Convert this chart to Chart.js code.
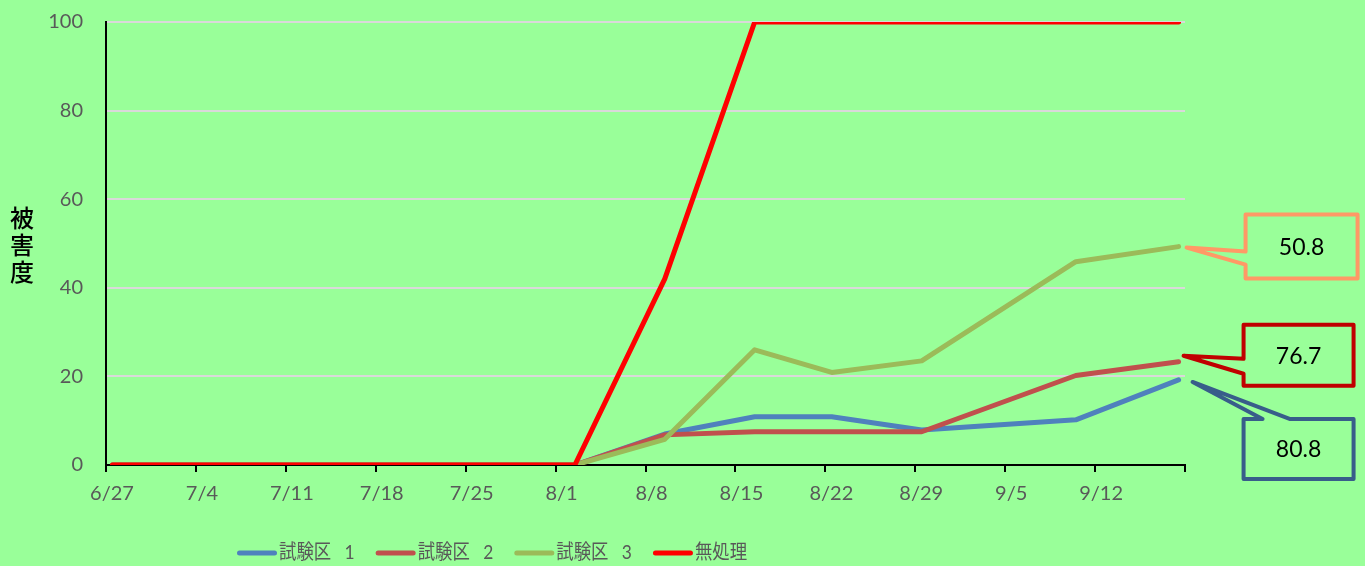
<!DOCTYPE html>
<html>
<head>
<meta charset="utf-8">
<script src="https://cdn.jsdelivr.net/npm/chart.js@4.4.1/dist/chart.umd.min.js"></script>
<style>
  html, body { margin: 0; padding: 0; background: #99ff99; }
  #wrap { width: 1365px; height: 566px; }
</style>
</head>
<body>
<div id="wrap"><canvas id="c" width="1365" height="566"></canvas></div>
<script>
// Survey dates and damage index (被害度) per plot
const dates     = ['6/27', '8/2', '8/9', '8/16', '8/22', '8/29', '9/10', '9/18'];
const plot1     = [0, 0, 7.0, 10.9, 10.9, 7.9, 10.2, 19.2];
const plot2     = [0, 0, 6.8, 7.5, 7.5, 7.5, 20.2, 23.3];
const plot3     = [0, 0, 5.8, 26.0, 20.9, 23.5, 45.9, 49.3];
const untreated = [0, 0, 42.0, 100, 100, 100, 100, 100];

const seriesNames = ['試験区   1', '試験区   2', '試験区   3', '無処理'];

// Weekly axis ticks (last tick closes the axis without a label)
const tickDates  = ['6/27', '7/4', '7/11', '7/18', '7/25', '8/1', '8/8', '8/15', '8/22', '8/29', '9/5', '9/12', '9/19'];
const tickLabels = ['6/27', '7/4', '7/11', '7/18', '7/25', '8/1', '8/8', '8/15', '8/22', '8/29', '9/5', '9/12', ''];

// Control value shown next to the final point of each treated plot
const calloutTexts = ['80.8', '76.7', '50.8'];

const yTitle = ['被', '害', '度'];

const COLORS = ['#4f81bd', '#c0504d', '#9bbb59', '#ff0000'];
const GREY_TEXT = '#595959';
const LATIN = 'Lato, "Noto Sans CJK JP", sans-serif';
const CJK = '"Noto Sans CJK JP", sans-serif';

function dayIndex(md) {
  const [m, d] = md.split('/').map(Number);
  return (Date.UTC(2000, m - 1, d) - Date.UTC(2000, 5, 27)) / 86400000;
}

function series(values) {
  return dates.map((d, i) => ({ x: dayIndex(d), y: values[i] }));
}

const allSeries = [plot1, plot2, plot3, untreated];
const drawOrder = [4, 3, 2, 1];

const datasets = allSeries.map((vals, i) => ({
  label: seriesNames[i],
  data: series(vals),
  borderColor: COLORS[i],
  backgroundColor: COLORS[i],
  borderWidth: 5,
  borderCapStyle: 'round',
  borderJoinStyle: 'round',
  pointRadius: 0,
  pointHoverRadius: 0,
  tension: 0,
  order: drawOrder[i]
}));

// Callout outlines, offsets in pixels from the final point of each series
const calloutStyles = [
  { color: '#385d8a', box: [65, 39, 175, 99], wedge: 'top', tip: [14, 2], base: [84, 111] },
  { color: '#c00000', box: [65, -37, 175, 24], wedge: 'left', tip: [5, -6], base: [-3, 12] },
  { color: '#ff9966', box: [67, -32, 179, 32], wedge: 'left', tip: [8, 1], base: [5, 18] }
];

const calloutPlugin = {
  id: 'callouts',
  afterDatasetsDraw(chart) {
    const ctx = chart.ctx;
    ctx.save();
    calloutStyles.forEach((st, i) => {
      const meta = chart.getDatasetMeta(i);
      const pt = meta.data[meta.data.length - 1];
      const px = pt.x, py = pt.y;
      const L = px + st.box[0], T = py + st.box[1], R = px + st.box[2], B = py + st.box[3];
      const tx = px + st.tip[0], ty = py + st.tip[1];
      ctx.beginPath();
      if (st.wedge === 'left') {
        ctx.moveTo(L, T); ctx.lineTo(R, T); ctx.lineTo(R, B); ctx.lineTo(L, B);
        ctx.lineTo(L, py + st.base[1]); ctx.lineTo(tx, ty); ctx.lineTo(L, py + st.base[0]);
      } else {
        ctx.moveTo(L, T); ctx.lineTo(px + st.base[0], T); ctx.lineTo(tx, ty);
        ctx.lineTo(px + st.base[1], T); ctx.lineTo(R, T); ctx.lineTo(R, B); ctx.lineTo(L, B);
      }
      ctx.closePath();
      ctx.lineWidth = 4;
      ctx.lineJoin = 'round';
      ctx.strokeStyle = st.color;
      ctx.stroke();
      ctx.fillStyle = '#000000';
      ctx.font = '23px ' + LATIN;
      ctx.textAlign = 'center';
      ctx.textBaseline = 'middle';
      ctx.fillText(calloutTexts[i], (L + R) / 2, (T + B) / 2 + 1);
    });
    ctx.restore();
  }
};

const yTitlePlugin = {
  id: 'yTitle',
  afterDraw(chart) {
    const ctx = chart.ctx;
    ctx.save();
    ctx.fillStyle = '#000000';
    ctx.font = '500 24px ' + CJK;
    ctx.textAlign = 'center';
    ctx.textBaseline = 'middle';
    yTitle.forEach((ch, i) => ctx.fillText(ch, 22, 218 + i * 27));
    ctx.restore();
  }
};

// Legend drawn as line swatches with a slightly condensed label face
const legendPlugin = {
  id: 'lineLegend',
  afterDraw(chart) {
    const ctx = chart.ctx;
    ctx.save();
    ctx.font = '20px ' + LATIN;
    ctx.textBaseline = 'middle';
    ctx.textAlign = 'left';
    const squeeze = 0.87;
    const y = 553;
    let x = 237;
    chart.data.datasets.forEach(ds => {
      ctx.beginPath();
      ctx.moveTo(x + 2.5, y);
      ctx.lineTo(x + 37.5, y);
      ctx.lineWidth = 5;
      ctx.lineCap = 'round';
      ctx.strokeStyle = ds.borderColor;
      ctx.stroke();
      ctx.fillStyle = GREY_TEXT;
      ctx.save();
      ctx.translate(x + 42, y);
      ctx.scale(squeeze, 1);
      ctx.fillText(ds.label, 0, 0);
      ctx.restore();
      x += 42 + ctx.measureText(ds.label).width * squeeze + 21;
    });
    ctx.restore();
  }
};

new Chart(document.getElementById('c'), {
  type: 'line',
  data: { datasets },
  options: {
    responsive: false,
    animation: false,
    devicePixelRatio: 1,
    layout: { padding: { left: 0, top: 22, right: 180, bottom: 51 } },
    plugins: {
      legend: { display: false },
      tooltip: { enabled: false }
    },
    scales: {
      x: {
        type: 'linear',
        min: dayIndex(tickDates[0]) - 0.5,
        max: dayIndex(tickDates[tickDates.length - 1]) - 0.5,
        afterBuildTicks(scale) {
          scale.ticks = tickDates.map(d => ({ value: dayIndex(d) - 0.5 }));
        },
        afterFit(scale) { scale.height = 50; },
        grid: {
          drawOnChartArea: false,
          drawTicks: true,
          tickLength: 7,
          color: '#000000',
          lineWidth: 2
        },
        border: { color: '#000000', width: 2 },
        ticks: {
          autoSkip: false,
          maxRotation: 0,
          labelOffset: 6,
          padding: 10,
          color: GREY_TEXT,
          font: { family: LATIN, size: 20 },
          callback: (v, i) => tickLabels[i]
        }
      },
      y: {
        min: 0,
        max: 100,
        afterFit(scale) {
          scale.width = 106;
          scale.paddingTop = 0;
          scale.paddingBottom = 0;
        },
        grid: { color: '#d9d9d9', lineWidth: 2, drawTicks: false },
        border: { color: '#000000', width: 2 },
        ticks: {
          stepSize: 20,
          padding: 23,
          color: GREY_TEXT,
          font: { family: LATIN, size: 20 }
        }
      }
    }
  },
  plugins: [calloutPlugin, yTitlePlugin, legendPlugin]
});
</script>
</body>
</html>
